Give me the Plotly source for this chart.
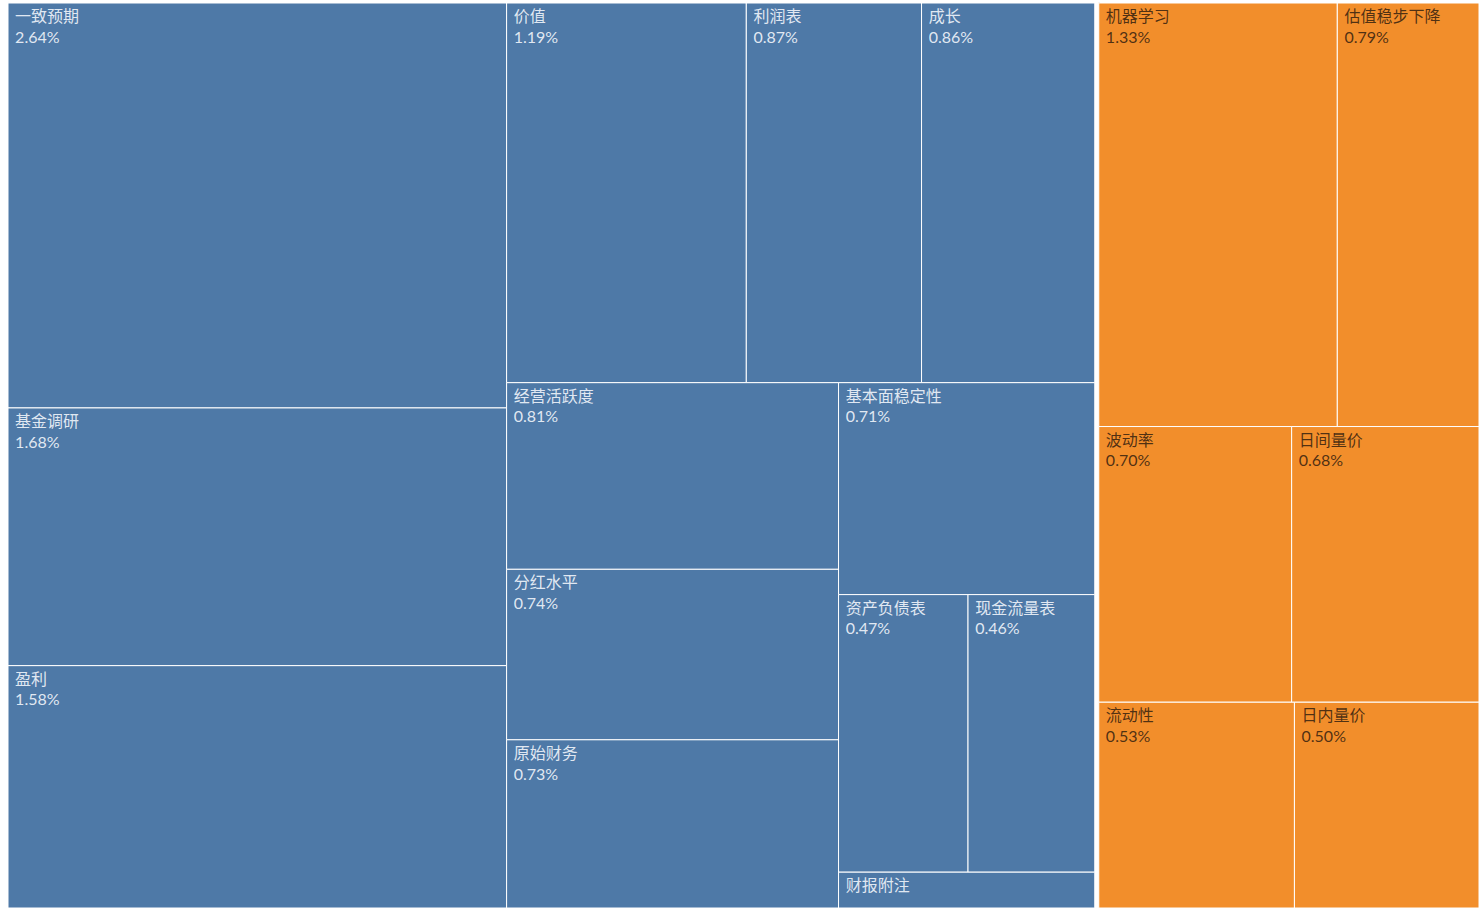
import plotly.graph_objects as go

# Data
group_names = ["基本面", "量价"]
group_colors = ["#4E79A7", "#F28E2B"]

fund_labels = ["一致预期", "基金调研", "盈利", "价值", "利润表", "成长", "经营活跃度",
               "分红水平", "原始财务", "基本面稳定性", "资产负债表", "现金流量表", "财报附注"]
fund_values = [2.64, 1.68, 1.58, 1.19, 0.87, 0.86, 0.81, 0.74, 0.73, 0.71, 0.47, 0.46, 0.12]

pv_labels = ["机器学习", "估值稳步下降", "波动率", "日间量价", "流动性", "日内量价"]
pv_values = [1.33, 0.79, 0.70, 0.68, 0.53, 0.50]

ids, labels, parents, values, colors, templates, tcolors = [], [], [], [], [], [], []

groups = [(group_names[0], fund_labels, fund_values, group_colors[0], "rgba(240,244,250,0.92)"),
          (group_names[1], pv_labels, pv_values, group_colors[1], "rgba(50,32,15,0.85)")]

for gname, labs, vals, col, tcol in groups:
    ids.append(gname)
    labels.append(gname)
    parents.append("")
    values.append(round(sum(vals), 4))
    colors.append("#ffffff")
    templates.append("")
    tcolors.append(tcol)
    for lab, v in zip(labs, vals):
        ids.append(gname + "/" + lab)
        labels.append(lab)
        parents.append(gname)
        values.append(v)
        colors.append(col)
        if lab == "财报附注":
            templates.append("&nbsp;%{label}")
        else:
            templates.append("&nbsp;%{label}<br>&nbsp;%{value:.2f}%")
        tcolors.append(tcol)

fig = go.Figure(go.Treemap(
    ids=ids,
    labels=labels,
    parents=parents,
    values=values,
    branchvalues="total",
    sort=True,
    tiling=dict(packing="squarify", squarifyratio=1.618, pad=0),
    marker=dict(colors=colors, line=dict(color="#ffffff", width=1),
                pad=dict(t=1, l=4, r=0, b=2)),
    texttemplate=templates,
    textposition="top left",
    textfont=dict(family="Lato, 'Noto Sans CJK SC', sans-serif", size=16, color=tcolors),
    pathbar=dict(visible=False),
    hoverinfo="label+value",
))

fig.update_layout(
    width=1479, height=912,
    margin=dict(l=0, r=0, t=1, b=0),
    paper_bgcolor="#ffffff",
)

fig.write_html("out.html", config={"displayModeBar": False},
               post_script="document.body.style.margin='0px';")
